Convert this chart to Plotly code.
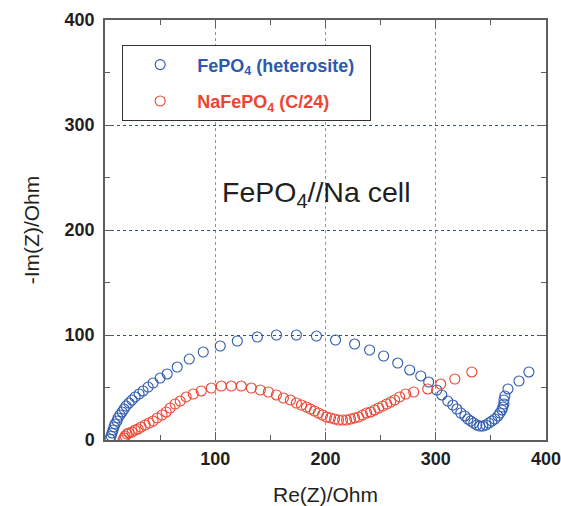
import plotly.graph_objects as go

# FePO4 (heterosite) impedance data
fe_re = [4.5, 5.5, 6.4, 7.3, 8.2, 9.1, 10.9, 11.8, 13.6, 15.5, 17.3, 19.1, 21.8, 24.5, 27.3,
         30.9, 34.5, 39.1, 43.6, 50.0, 56.4, 65.5, 76.4, 89.1, 104.5, 120.0, 138.2, 155.5,
         173.6, 191.8, 209.1, 226.4, 240.0, 252.7, 265.5, 276.4, 286.4, 293.6, 300.9, 305.5,
         310.9, 315.5, 319.1, 322.7, 326.4, 329.1, 331.8, 334.5, 337.3, 340.0, 342.7, 345.5,
         348.2, 350.9, 353.6, 356.4, 358.2, 360.0, 360.9, 361.8, 361.8, 362.7, 365.5, 375.5, 384.5]
fe_im = [1.0, 3.8, 6.7, 9.5, 12.4, 15.2, 18.1, 21.0, 23.8, 26.7, 29.5, 32.4, 35.2, 38.1, 41.0,
         43.8, 46.7, 50.5, 54.3, 59.0, 62.9, 69.5, 77.1, 83.8, 89.5, 94.3, 98.1, 100.0,
         100.0, 99.0, 95.2, 91.4, 85.7, 80.0, 73.3, 66.7, 61.0, 55.2, 47.6, 42.9,
         37.1, 33.3, 29.5, 25.7, 22.9, 20.0, 18.1, 16.2, 14.3, 13.3, 13.3, 14.3,
         16.2, 18.1, 20.0, 22.9, 25.7, 28.6, 31.4, 34.3, 38.1, 41.9, 48.6, 56.2, 64.8]

# NaFePO4 (C/24) impedance data
na_re = [16.4, 17.3, 18.2, 20.0, 21.8, 24.5, 27.3, 30.0, 32.7, 36.4, 40.0, 43.6, 47.3, 51.8,
         55.5, 59.1, 63.6, 68.2, 73.6, 80.0, 87.3, 96.4, 105.5, 114.5, 123.6, 132.7, 140.9,
         148.2, 155.5, 161.8, 168.2, 173.6, 178.2, 182.7, 186.4, 190.0, 193.6, 197.3, 200.9,
         204.5, 208.2, 211.8, 215.5, 219.1, 222.7, 226.4, 230.0, 233.6, 237.3, 240.9, 244.5,
         248.2, 251.8, 255.5, 259.1, 262.7, 267.3, 272.7, 280.0, 292.7, 304.5, 317.3, 332.7]
na_im = [0.0, 1.9, 3.8, 5.7, 6.7, 7.6, 9.5, 10.5, 12.4, 14.3, 16.2, 18.1, 21.0, 23.8,
         26.7, 30.5, 34.3, 37.1, 41.0, 43.8, 46.7, 49.5, 51.4, 51.4, 51.4, 49.5, 47.6,
         45.7, 42.9, 40.0, 38.1, 35.2, 33.3, 31.4, 29.5, 27.6, 25.7, 23.8, 21.9,
         21.0, 20.0, 19.0, 19.0, 19.0, 20.0, 21.0, 21.9, 23.8, 25.7, 26.7, 28.6,
         30.5, 32.4, 34.3, 36.2, 38.1, 41.0, 43.8, 45.7, 48.6, 53.3, 58.1, 64.8]

x_ticks = [100, 200, 300, 400]
y_ticks = [0, 100, 200, 300, 400]

BLUE = "#2D59AE"
RED = "#EE4431"
FONT = "Liberation Sans, Arial"

fig = go.Figure()
fig.add_trace(go.Scatter(
    x=fe_re, y=fe_im, mode="markers", legendgroup="a",
    name=f"<span style='color:{BLUE}'><b>FePO<sub>4</sub> (heterosite)</b></span>&nbsp;&nbsp;",
    marker=dict(symbol="circle-open", size=10, color=BLUE, line=dict(width=1.1, color=BLUE)),
))
fig.add_trace(go.Scatter(
    x=na_re, y=na_im, mode="markers", legendgroup="b",
    name=f"<span style='color:{RED}'><b>NaFePO<sub>4</sub> (C/24)</b></span>",
    marker=dict(symbol="circle-open", size=10, color=RED, line=dict(width=1.1, color=RED)),
))

axis_common = dict(
    showline=True, linecolor="#5E5E5E", linewidth=1.5, mirror="ticks",
    ticks="inside", ticklen=8, tickwidth=1.2, tickcolor="#5E5E5E",
    showgrid=True, gridwidth=1,
    zeroline=False, automargin=False, ticklabeloverflow="allow",
    tickfont=dict(family=FONT, size=18, color="#231F20", weight="bold"),
    title_font=dict(family=FONT, size=21, color="#231F20"),
    minor=dict(ticks="inside", ticklen=5, tickwidth=1.2, tickcolor="#5E5E5E", dtick=50, showgrid=False),
)

fig.update_xaxes(
    range=[0, 400], tickmode="array", tickvals=x_ticks, ticktext=[str(v) for v in x_ticks],
    title_text="Re(Z)/Ohm", title_standoff=19, ticklabelstandoff=2,
    gridcolor="#7393D8", griddash="dot",
    **axis_common,
)
fig.update_yaxes(
    range=[0, 400], tickmode="array", tickvals=y_ticks, ticktext=[str(v) for v in y_ticks],
    title_text="-Im(Z)/Ohm", title_standoff=19, ticklabelstandoff=5,
    gridcolor="#2B4EA3", griddash="3px,3px",
    **axis_common,
)

fig.add_annotation(
    x=191, y=234, xref="x", yref="y", showarrow=False,
    text="FePO<sub>4</sub>//Na cell",
    font=dict(family=FONT, size=28.5, color="#231F20"),
)

fig.update_layout(
    width=561, height=506,
    margin=dict(l=105, r=15, t=20, b=66),
    paper_bgcolor="white", plot_bgcolor="white",
    showlegend=True,
    legend=dict(
        x=0.0385, y=0.94, xanchor="left", yanchor="top",
        bgcolor="white", bordercolor="#333333", borderwidth=1.2,
        font=dict(family=FONT, size=18),
        itemwidth=64, tracegroupgap=10,
    ),
)

fig.write_html("out.html")
